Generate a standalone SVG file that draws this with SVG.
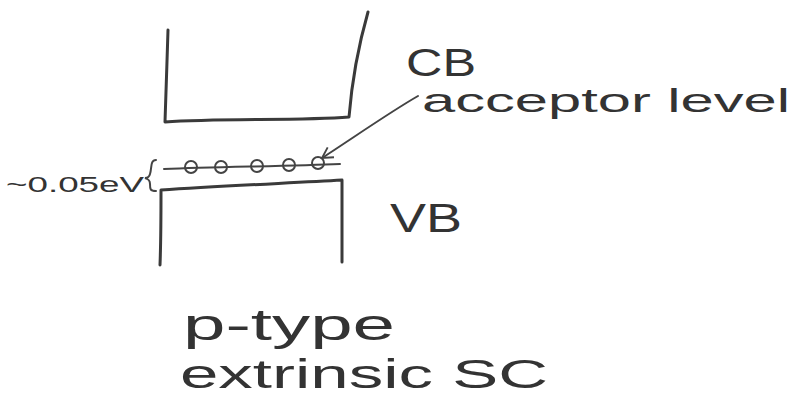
<svg xmlns="http://www.w3.org/2000/svg" width="812" height="396" viewBox="0 0 812 396">
  <style>
    .ink { fill: none; stroke: #3a3a3a; stroke-width: 3; stroke-linecap: round; stroke-linejoin: round; }
    .thin { fill: none; stroke: #444; stroke-width: 2; stroke-linecap: round; }
    .lbl { font-family: "Liberation Sans", "DejaVu Sans", sans-serif; fill: #333; }
  </style>
  <defs>
    <marker id="arrowhead" viewBox="0 0 12 12" refX="10" refY="6" markerWidth="14" markerHeight="14" markerUnits="userSpaceOnUse" orient="auto">
      <path d="M1,1 L10,6 L1,11" fill="none" stroke="#444" stroke-width="1.6"/>
    </marker>
  </defs>
  <rect width="812" height="396" fill="#ffffff"/>

  <!-- conduction band -->
  <g id="cb">
    <path class="ink" d="M168,30 C167,60 166,95 165,122 C220,118 300,121 349,117 C352,80 360,40 368,12"/>
    <text class="lbl" x="406" y="76" font-size="38" textLength="70" lengthAdjust="spacingAndGlyphs">CB</text>
  </g>

  <!-- acceptor level with holes -->
  <g id="acceptor-level">
    <path class="thin" d="M164,169 C220,167 290,166 340,164"/>
    <circle class="thin" cx="191" cy="167" r="6"/>
    <circle class="thin" cx="221" cy="167" r="6"/>
    <circle class="thin" cx="257" cy="166" r="6"/>
    <circle class="thin" cx="289" cy="165" r="6"/>
    <circle class="thin" cx="318" cy="163" r="6"/>
    <text class="lbl" x="422" y="112" font-size="34" textLength="368" lengthAdjust="spacingAndGlyphs">acceptor level</text>
  </g>

  <!-- energy gap marker -->
  <g id="gap">
    <path class="thin" d="M156,160 C150,160 152,168 150,174 C149,178 146,178 145,178 C148,179 150,180 150,184 C150,189 150,191 156,191"/>
    <text class="lbl" x="6" y="192" font-size="22" textLength="138" lengthAdjust="spacingAndGlyphs">~0.05eV</text>
  </g>

  <!-- valence band -->
  <g id="vb">
    <path class="ink" d="M160,265 C161,240 161,212 161,190 C220,186 290,183 342,180 C342,210 342,240 342,262"/>
    <text class="lbl" x="390" y="232" font-size="40" textLength="72" lengthAdjust="spacingAndGlyphs">VB</text>
  </g>

  <!-- caption -->
  <g id="caption">
    <text class="lbl" x="183" y="340" font-size="44" textLength="212" lengthAdjust="spacingAndGlyphs">p-type</text>
    <text class="lbl" x="180" y="388" font-size="40" textLength="368" lengthAdjust="spacingAndGlyphs">extrinsic SC</text>
  </g>

  <!-- connectors -->
  <g id="connectors">
    <path class="thin" d="M418,96 C390,112 350,140 322,158" marker-end="url(#arrowhead)"/>
  </g>
</svg>
